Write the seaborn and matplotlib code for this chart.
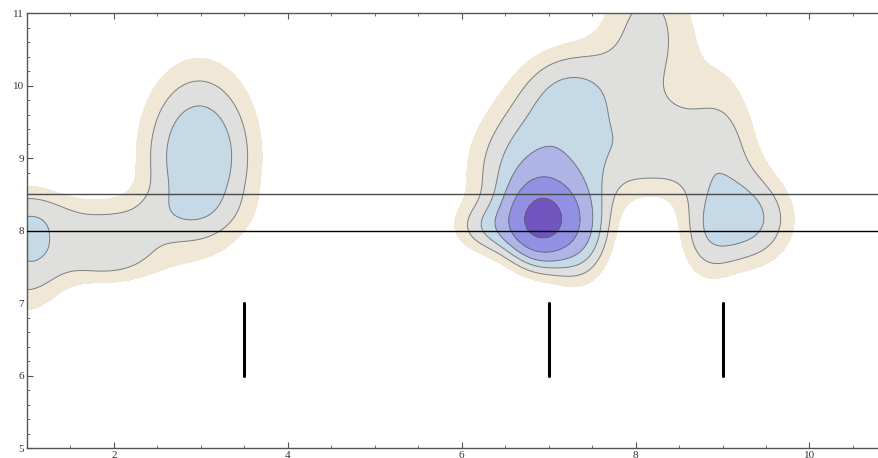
import numpy as np
import pandas as pd
import matplotlib
matplotlib.use("Agg")
import matplotlib.pyplot as plt
import seaborn as sns

# ---- smooth density: components (centre, weight, spread) ----
comp_x  = [6.92, 7.36, 6.87, 7.26, 8.28, 9.02, 8.14, 8.81, 9.30, 2.98, 0.98, 1.92, 1.66, 6.37]
comp_y  = [8.13, 7.98, 8.78, 9.94, 9.09, 9.40, 10.71, 7.87, 8.14, 9.02, 7.71, 7.70, 8.23, 8.03]
comp_w  = [0.779, 0.250, 0.330, 0.197, 0.182, 0.112, 0.186, 0.120, 0.252, 0.342, 0.226, 0.213,
           0.091, 0.158]
comp_sx = [0.24, 0.24, 0.52, 0.42, 0.61, 0.31, 0.41, 0.24, 0.38, 0.46, 0.35, 0.44, 0.97, 0.33]
comp_sy = [0.35, 0.48, 0.71, 0.46, 0.46, 0.88, 0.88, 0.48, 0.46, 0.86, 0.62, 0.32, 0.24, 0.24]

contour_levels = [0.099, 0.164, 0.246, 0.35, 0.53, 0.86]
fill_colors = ["#F0E7D6", "#DFE0DD", "#C6D9E6", "#AEB5E6", "#9290E2", "#7256C0"]

# reference lines and marks
hline_y = [8.0, 8.5]
hline_colors = ["#000000", "#4a4a4a"]
mark_x = [3.5, 7.0, 9.0]
mark_y_low = [6.0, 6.0, 6.0]
mark_y_high = [7.0, 7.0, 7.0]

x_ticks = [2, 4, 6, 8, 10]
y_ticks = [5, 6, 7, 8, 9, 10, 11]
x_range = (1.0, 10.8)
y_range = (5.0, 11.0)

sns.set_style("ticks")
plt.rcParams["font.family"] = ["Liberation Serif", "DejaVu Serif"]

fig = plt.figure(figsize=(8.79, 4.58), dpi=100)
ax = fig.add_axes([27 / 879, 10 / 458, 1 - 27 / 879, 435 / 458])

# density surface from the components
gx = np.linspace(0.0, 11.5, 700)
gy = np.linspace(4.5, 12.5, 560)
X, Y = np.meshgrid(gx, gy)
Z = np.zeros_like(X)
for cx, cy, w, sx, sy in zip(comp_x, comp_y, comp_w, comp_sx, comp_sy):
    Z += w * np.exp(-((X - cx) ** 2) / (2 * sx ** 2) - ((Y - cy) ** 2) / (2 * sy ** 2))

ax.contourf(X, Y, Z, levels=contour_levels + [Z.max() + 1], colors=fill_colors, zorder=1)
ax.contour(X, Y, Z, levels=contour_levels[1:], colors="#5f5f5f", linewidths=0.7,
           alpha=0.75, zorder=2)

for yv, c in zip(hline_y, hline_colors):
    ax.axhline(yv, color=c, lw=1.0, zorder=3)

marks = pd.DataFrame({
    "x": [v for v in mark_x for _ in range(2)],
    "y": [v for pair in zip(mark_y_low, mark_y_high) for v in pair],
    "mark": [i for i in range(len(mark_x)) for _ in range(2)],
})
sns.lineplot(data=marks, x="x", y="y", units="mark", estimator=None, sort=False,
             color="black", lw=2.2, ax=ax, zorder=4, legend=False)

ax.set_xlim(*x_range)
ax.set_ylim(*y_range)
ax.set_xticks(x_ticks)
ax.set_yticks(y_ticks)
ax.set_xticks(np.arange(1.5, 10.8, 0.5), minor=True)
ax.set_yticks(np.arange(5.0, 11.01, 0.2), minor=True)
ax.set_xlabel("")
ax.set_ylabel("")
for s in ["left", "bottom", "top"]:
    ax.spines[s].set_visible(True)
    ax.spines[s].set_color("#555555")
    ax.spines[s].set_linewidth(1.0)
ax.spines["right"].set_visible(False)
ax.tick_params(which="both", direction="in", top=True, right=False, colors="#555555",
               labelcolor="#333333", labelsize=8, pad=2)
ax.tick_params(which="major", length=4, width=0.8)
ax.tick_params(which="minor", length=2, width=0.6)
ax.set_facecolor("white")

fig.savefig("out.png", dpi=100)
